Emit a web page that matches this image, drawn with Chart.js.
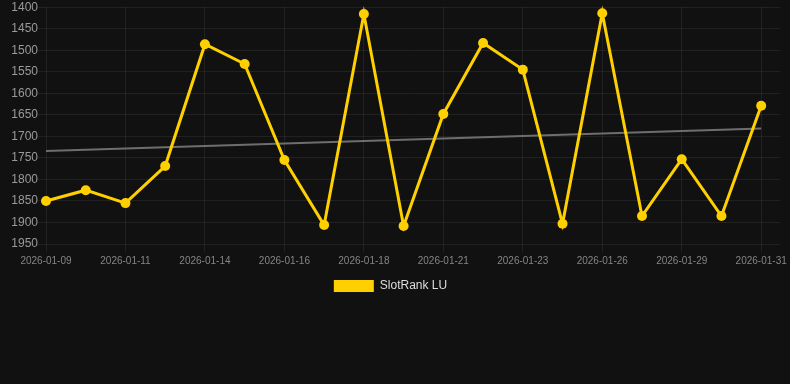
<!DOCTYPE html>
<html>
<head>
<meta charset="utf-8">
<script src="https://cdn.jsdelivr.net/npm/chart.js@4"></script>
<style>
    html, body { margin: 0; padding: 0; background: #111111; overflow: hidden; }
    #wrap { position: relative; width: 790px; height: 302px; }
</style>
</head>
<body>
<div id="wrap"><canvas id="chart"></canvas></div>
<script>
// dates of the points (only every other one is shown on the axis)
const dates = [
    '2026-01-09', '2026-01-10', '2026-01-11', '2026-01-13', '2026-01-14',
    '2026-01-15', '2026-01-16', '2026-01-17', '2026-01-18', '2026-01-20',
    '2026-01-21', '2026-01-22', '2026-01-23', '2026-01-25', '2026-01-26',
    '2026-01-28', '2026-01-29', '2026-01-30', '2026-01-31'
];
// rank values
const ranks = [1850, 1825, 1855, 1769, 1486, 1532, 1755, 1906, 1416, 1908,
               1648, 1483, 1545, 1903, 1414, 1885, 1753, 1885, 1629];
const seriesName = 'SlotRank LU';

// least squares trend of the ranks
function trendLine(values) {
    const n = values.length;
    const mx = (n - 1) / 2;
    const my = values.reduce((a, b) => a + b, 0) / n;
    let sxy = 0, sxx = 0;
    values.forEach((v, i) => { sxy += (i - mx) * (v - my); sxx += (i - mx) * (i - mx); });
    const k = sxy / sxx;
    return [{ x: 0, y: my - k * mx }, { x: n - 1, y: my + k * (n - 1 - mx) }];
}

const points = ranks.map((v, i) => ({ x: i, y: v }));
const font = 'Liberation Sans, Arial, sans-serif';

new Chart(document.getElementById('chart').getContext('2d'), {
    type: 'line',
    data: {
        datasets: [{
            label: seriesName,
            data: points,
            borderColor: '#ffd000',
            backgroundColor: '#ffd000',
            borderWidth: 3,
            pointRadius: 5,
            pointBackgroundColor: '#ffd000',
            pointBorderWidth: 0,
            tension: 0,
            clip: false
        }, {
            label: 'trend',
            data: trendLine(ranks),
            borderColor: '#6e6e6e',
            borderWidth: 2,
            pointRadius: 0,
            tension: 0
        }]
    },
    options: {
        responsive: true,
        maintainAspectRatio: false,
        animation: false,
        layout: { padding: { top: 0, right: 9, left: 0, bottom: 0 } },
        plugins: {
            tooltip: { enabled: false },
            legend: {
                position: 'bottom',
                labels: {
                    color: '#dddddd',
                    font: { family: font, size: 12 },
                    boxWidth: 40,
                    boxHeight: 12,
                    filter: item => item.text === seriesName,
                    generateLabels: chart => Chart.defaults.plugins.legend.labels.generateLabels(chart)
                        .map(item => Object.assign(item, { lineWidth: 0 }))
                }
            }
        },
        scales: {
            x: {
                type: 'linear',
                min: 0,
                max: 18.48,
                grid: { color: 'rgba(255,255,255,0.07)', tickLength: 8 },
                border: { display: false },
                ticks: {
                    stepSize: 2,
                    includeBounds: false,
                    maxRotation: 0,
                    color: '#858585',
                    font: { family: font, size: 10 },
                    callback: v => dates[v] || ''
                }
            },
            y: {
                reverse: true,
                min: 1400,
                max: 1950,
                afterFit: scale => { scale.width = 46; },
                grid: { color: 'rgba(255,255,255,0.07)', tickLength: 8 },
                border: { display: false },
                ticks: {
                    stepSize: 50,
                    color: '#9a9a9a',
                    padding: 0,
                    font: { family: font, size: 12 },
                    callback: v => String(v)
                }
            }
        }
    }
});
</script>
</body>
</html>
